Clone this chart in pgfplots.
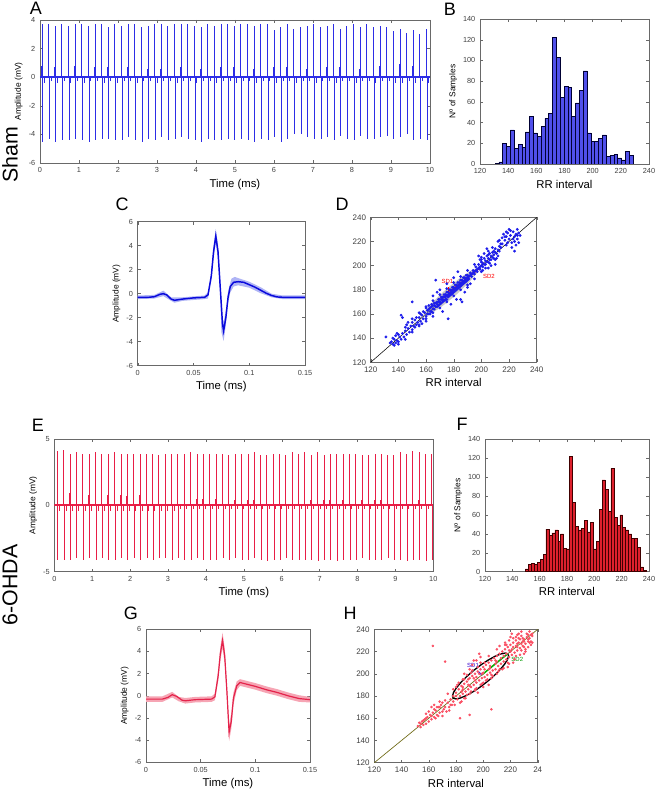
\documentclass[border=0pt]{standalone}
\usepackage{fontspec}
\setmainfont{Liberation Sans}
\usepackage{pgfplots}
\usepackage{pgfplotstable}
\pgfplotsset{compat=1.18}

\definecolor{cA}{RGB}{45,45,230}
\definecolor{cE}{RGB}{232,30,70}
\definecolor{barB}{RGB}{80,80,235}
\definecolor{barF}{RGB}{222,32,45}
\definecolor{lineC}{RGB}{10,10,220}
\definecolor{bandC}{RGB}{175,180,245}
\definecolor{lineG}{RGB}{228,35,75}
\definecolor{bandG}{RGB}{246,165,180}
\definecolor{ptD}{RGB}{30,30,235}
\definecolor{ptH}{RGB}{250,80,100}
\definecolor{diagH}{RGB}{110,105,20}
\definecolor{axgray}{RGB}{105,105,105}

\pgfplotsset{
  mstyle/.style={
    scale only axis, anchor=south west,
    axis line style={axgray, line width=0.4pt},
    major tick style={axgray, line width=0.3pt},
    tick align=inside, major tick length=2.2pt,
    ticklabel style={font=\fontsize{5.5}{6}\selectfont, text=black!75},
    /pgf/number format/assume math mode=true,
    xlabel style={font=\fontsize{8.5}{9}\selectfont, inner sep=1pt},
    ylabel style={font=\fontsize{6.3}{7}\selectfont, inner sep=1pt},
    scaled ticks=false,
  },
}

% beats: time, R peak, S trough, small up bump, small down bump
\pgfplotstableread{
t P T Q S
0.05 3.7 -4.5 0.8 -0.4
0.22 3.7 -4.3 0.6 -0.3
0.39 3.6 -4.5 0.7 -0.4
0.56 3.7 -4.4 0.7 -0.3
0.73 3.6 -4.4 0.6 -0.4
0.90 3.7 -4.3 0.8 -0.3
1.07 3.7 -4.4 0.7 -0.4
1.24 3.6 -4.5 0.6 -0.3
1.41 3.7 -4.4 0.7 -0.3
1.58 3.7 -4.3 0.6 -0.4
1.75 3.5 -4.3 0.7 -0.3
1.92 3.7 -4.4 0.8 -0.4
2.09 3.6 -4.4 0.6 -0.3
2.26 3.7 -4.2 0.7 -0.3
2.43 3.7 -4.4 0.6 -0.4
2.60 3.5 -4.5 0.7 -0.3
2.77 3.6 -4.3 0.6 -0.3
2.94 3.7 -4.4 0.7 -0.4
3.11 3.7 -4.2 0.6 -0.3
3.28 3.6 -4.4 0.7 -0.3
3.45 3.7 -4.3 0.6 -0.4
3.62 3.7 -4.2 0.7 -0.3
3.79 3.7 -4.3 0.6 -0.3
3.96 3.6 -4.4 0.7 -0.4
4.13 3.5 -4.5 0.6 -0.3
4.30 3.7 -4.3 0.7 -0.3
4.47 3.6 -4.4 0.6 -0.4
4.64 3.7 -4.4 0.7 -0.3
4.81 3.7 -4.3 0.6 -0.3
4.98 3.6 -4.4 0.7 -0.4
5.15 3.7 -4.3 0.6 -0.3
5.32 3.7 -4.4 0.7 -0.3
5.49 3.6 -4.5 0.6 -0.4
5.66 3.7 -4.3 0.8 -0.3
5.83 3.7 -4.4 0.6 -0.3
6.00 3.3 -4.2 0.7 -0.4
6.17 3.5 -4.5 0.6 -0.3
6.34 3.7 -4.3 0.7 -0.3
6.51 3.4 -4.0 0.6 -0.4
6.68 3.5 -4.0 0.7 -0.3
6.85 3.6 -4.2 0.6 -0.3
7.02 3.7 -4.3 0.7 -0.4
7.19 3.5 -4.3 0.6 -0.3
7.36 3.6 -4.2 0.7 -0.3
7.53 3.7 -4.4 0.6 -0.4
7.70 3.4 -4.1 0.7 -0.3
7.87 3.6 -4.3 0.8 -0.3
8.04 3.7 -4.4 0.7 -0.4
8.21 3.5 -4.1 0.6 -0.3
8.38 3.7 -4.3 0.7 -0.3
8.55 3.5 -4.3 0.6 -0.4
8.72 3.6 -4.2 0.8 -0.3
8.89 3.5 -4.1 0.7 -0.3
9.06 3.2 -4.3 0.6 -0.4
9.23 3.4 -4.2 0.9 -0.4
9.40 3.1 -4.0 0.7 -0.3
9.57 3.3 -4.4 0.8 -0.4
9.74 3.0 -4.3 0.9 -0.3
9.91 3.4 -4.4 1.1 -0.4
}\ecgA

\pgfplotstableread{
t P T Q S
0.08 4.1 -4.1 0.9 -0.4
0.25 4.2 -4.1 0.8 -0.4
0.42 3.9 -4.1 0.9 -0.4
0.58 4.0 -4.0 0.8 -0.4
0.75 3.9 -4.1 0.9 -0.4
0.92 3.9 -4.0 0.8 -0.4
1.09 4.0 -4.1 0.9 -0.4
1.25 3.9 -4.0 0.8 -0.4
1.42 3.9 -4.1 0.8 -0.4
1.59 4.0 -4.1 0.7 -0.4
1.76 3.9 -4.0 0.8 -0.4
1.92 3.9 -4.1 0.7 -0.4
2.09 3.9 -4.0 0.7 -0.4
2.26 3.9 -4.1 0.8 -0.4
2.43 3.9 -4.0 0.7 -0.4
2.59 3.9 -4.1 0.6 -0.4
2.76 3.8 -4.0 0.7 -0.4
2.93 3.9 -4.0 0.6 -0.4
3.10 3.9 -4.1 0.7 -0.4
3.26 3.9 -4.0 0.6 -0.3
3.43 3.9 -4.1 0.6 -0.3
3.60 4.0 -4.1 0.5 -0.3
3.77 3.9 -4.0 0.5 -0.3
3.93 3.9 -4.1 0.5 -0.3
4.10 3.9 -4.1 0.4 -0.3
4.27 3.9 -4.1 0.5 -0.3
4.44 3.9 -4.0 0.4 -0.3
4.60 3.8 -4.1 0.4 -0.3
4.77 3.9 -4.0 0.4 -0.3
4.94 3.9 -4.1 0.5 -0.3
5.11 3.9 -4.1 0.4 -0.3
5.27 4.0 -4.0 0.4 -0.3
5.44 3.8 -4.1 0.4 -0.3
5.61 3.8 -4.2 0.4 -0.3
5.78 3.9 -4.1 0.4 -0.3
5.94 3.9 -4.1 0.5 -0.3
6.11 3.8 -4.0 0.4 -0.3
6.28 4.0 -4.1 0.4 -0.3
6.45 3.9 -4.1 0.4 -0.3
6.61 4.0 -4.1 0.4 -0.3
6.78 3.8 -4.1 0.4 -0.3
6.95 4.0 -4.2 0.4 -0.3
7.12 3.8 -4.1 0.4 -0.3
7.28 3.9 -4.1 0.4 -0.3
7.45 3.9 -4.2 0.4 -0.3
7.62 3.9 -4.1 0.4 -0.3
7.79 3.9 -4.1 0.4 -0.3
7.95 3.9 -4.1 0.4 -0.3
8.12 3.8 -4.0 0.4 -0.3
8.29 3.8 -4.1 0.4 -0.3
8.46 3.9 -4.1 0.4 -0.3
8.62 3.9 -4.1 0.4 -0.3
8.79 3.8 -4.0 0.4 -0.3
8.96 3.8 -4.1 0.4 -0.3
9.13 4.0 -4.1 0.4 -0.3
9.29 3.9 -4.2 0.4 -0.3
9.46 4.1 -4.1 0.4 -0.3
9.63 4.0 -4.1 0.4 -0.3
9.80 3.9 -4.2 0.4 -0.3
9.96 3.9 -4.1 0.4 -0.3
}\ecgE

% histogram bins: left edge, count (last row closes the interval)
\pgfplotstableread{
x n
130.70 0.5
133.42 2
136.14 20
138.86 17
141.58 33
144.30 15
147.02 19
149.74 16
152.46 31
155.18 46
157.90 30
160.62 27
163.34 36
166.06 44
168.78 49
171.50 122
174.22 103
176.94 64
179.66 75
182.38 74
185.10 46
187.82 59
190.54 71
193.26 90
195.98 30
198.70 22
201.42 22
204.14 25
206.86 28
209.58 7
212.30 8
215.02 9
217.74 6
220.46 4
223.18 12
225.90 8
228.62 0
}\histB

\pgfplotstableread{
x n
149.50 3
151.66 8
153.82 9
155.98 8
158.14 10
160.30 13
162.46 18
164.62 45
166.78 38
168.94 41
171.10 44
173.26 32
175.42 40
177.58 25
179.74 24
181.90 122
184.06 73
186.22 48
188.38 44
190.54 46
192.70 54
194.86 42
197.02 52
199.18 24
201.34 32
203.50 66
205.66 97
207.82 87
209.98 64
212.14 109
214.30 57
216.46 49
218.62 60
220.78 47
222.94 44
225.10 40
227.26 35
229.42 35
231.58 26
233.74 5
235.90 1
238.06 0
}\histF

\begin{document}
\begin{tikzpicture}[x=0.75pt, y=0.75pt]
\path[use as bounding box] (0,0) rectangle (656,794);

% ---------- A ----------
\begin{axis}[mstyle, at={(30pt,473.25pt)}, width=292.5pt, height=107.25pt,
  xmin=0, xmax=10, ymin=-6, ymax=4,
  xtick={0,1,...,10}, ytick={-6,-4,-2,0,2,4},
  xlabel={Time (ms)}, ylabel={Amplitude (mV)}]
\addplot[cA, line width=1.3pt] coordinates {(0,0.02)(10,0.02)};
\addplot[ycomb, cA, line width=0.65pt] table[x=t, y=P] {\ecgA};
\addplot[ycomb, cA, line width=0.65pt] table[x expr=\thisrow{t}+0.015, y=T] {\ecgA};
\addplot[ycomb, cA, line width=0.5pt] table[x expr=\thisrow{t}-0.012, y=Q] {\ecgA};
\addplot[ycomb, cA, line width=0.5pt] table[x expr=\thisrow{t}+0.06, y=S] {\ecgA};
\end{axis}

% ---------- B ----------
\begin{axis}[mstyle, at={(360pt,472.5pt)}, width=126.75pt, height=108.75pt,
  xmin=120, xmax=240, ymin=0, ymax=140,
  xtick={120,140,...,240}, ytick={0,20,...,140},
  xlabel={RR interval}, ylabel={Nº of Samples}]
\addplot[ybar interval, fill=barB, draw=black!80!blue, line width=0.4pt] table[x=x, y=n] {\histB};
\end{axis}

% ---------- C ----------
\begin{axis}[mstyle, at={(103.28pt,321.23pt)}, width=125.5pt, height=108pt,
  xmin=0, xmax=0.15, ymin=-6, ymax=6,
  xtick={0,0.05,0.1,0.15}, xticklabels={0,0.05,0.1,0.15}, ytick={-6,-4,...,6},
  xlabel={Time (ms)}, ylabel={Amplitude (mV)}]
\addplot[fill=bandC, draw=none] coordinates {
 (0,-0.15)(0.015,-0.1)(0.023,0.25)(0.03,-0.3)(0.04,-0.3)(0.06,-0.15)(0.064,0.2)
 (0.066,1.9)(0.068,4.0)(0.070,5.4)(0.072,4.1)(0.074,1.0)(0.076,-2.0)(0.077,-2.4)
 (0.079,-1.4)(0.081,0.2)(0.084,1.25)(0.087,1.4)(0.09,1.3)(0.1,1.0)(0.11,0.55)
 (0.12,0.0)(0.13,-0.15)(0.15,-0.15)
 (0.15,-0.45)(0.13,-0.45)(0.12,-0.3)(0.11,0.05)(0.1,0.5)(0.09,0.7)(0.086,0.6)
 (0.083,0.1)(0.081,-0.8)(0.079,-2.6)(0.077,-3.95)(0.075,-3.2)(0.074,0.0)(0.072,2.9)
 (0.070,4.2)(0.068,3.0)(0.066,1.1)(0.063,-0.4)(0.06,-0.45)(0.04,-0.6)(0.033,-0.75)
 (0.03,-0.6)(0.023,-0.2)(0.015,-0.4)(0,-0.45)};
\addplot[lineC, line width=1.1pt] coordinates {
 (0,-0.3)(0.01,-0.3)(0.015,-0.25)(0.02,-0.05)(0.023,0)(0.026,-0.1)(0.03,-0.45)
 (0.033,-0.55)(0.04,-0.45)(0.05,-0.35)(0.06,-0.3)(0.063,-0.1)(0.066,1.5)(0.068,3.5)
 (0.070,4.8)(0.072,3.5)(0.074,0.5)(0.076,-2.5)(0.077,-3.1)(0.079,-2.0)(0.081,-0.3)
 (0.083,0.6)(0.086,0.95)(0.09,1.0)(0.095,0.95)(0.1,0.75)(0.105,0.55)(0.11,0.3)
 (0.115,0.05)(0.12,-0.15)(0.125,-0.27)(0.13,-0.3)(0.15,-0.3)};
\end{axis}

% ---------- D ----------
\begin{axis}[mstyle, at={(278.03pt,323.78pt)}, width=124.5pt, height=108.75pt,
  xmin=120, xmax=240, ymin=120, ymax=240,
  xtick={120,140,...,240}, ytick={120,140,...,240},
  ticklabel style={font=\fontsize{6}{7}\selectfont},
  xlabel={RR interval}]
\addplot[black, line width=0.4pt] coordinates {(120,120)(240,240)};
\addplot[only marks, mark=*, mark size=0.85pt, ptD] coordinates {
 (135,137)(136,135)(137,139)(138,136)(136,140)(139,138)(140,137)(141,141)(138,142)
 (142,139)(143,144)(140,143)(144,141)(145,146)(146,143)(147,148)(145,149)(148,145)
 (149,150)(150,147)(131,141)(142,159)(143,157)(150,170)(146,151)(150,153)(151,150)
 (152,155)(153,151)(154,153)(155,157)(156,154)(157,159)(158,156)(155,151)(153,157)
 (159,161)(160,158)(161,163)(162,160)(158,162)(163,165)(164,162)(165,167)(160,165)
 (166,164)(162,167)(164,168)(157,152)(160,156)(165,161)(163,160)
 (166,169)(167,166)(168,170)(169,167)(170,172)(171,169)(172,174)(173,171)(174,176)
 (175,172)(176,178)(177,175)(178,180)(179,177)(180,182)(181,179)(182,184)(183,181)
 (184,186)(185,183)(186,188)(187,185)(188,190)(189,187)(190,192)(191,189)(192,194)
 (193,191)(194,196)(195,193)(168,166)(170,168)(172,170)(174,172)(176,174)(178,176)
 (180,178)(182,180)(184,182)(186,184)(188,186)(190,188)(169,172)(171,174)(173,176)
 (175,178)(177,180)(179,182)(181,184)(183,186)(185,188)(187,190)(189,192)
 (168,178)(167,188)(176,156)(185,172)(186,170)(182,172)(188,178)(170,180)(175,185)
 (180,190)(183,195)(190,182)(192,185)(178,168)(165,175)(172,162)
 (196,199)(197,195)(198,201)(199,197)(200,203)(201,199)(202,206)(203,201)(204,208)
 (205,203)(206,210)(207,205)(208,211)(209,206)(200,207)(202,210)(205,212)(207,200)
 (210,205)(203,198)(206,202)(198,208)(204,214)(209,212)(212,220)(210,214)
 (215,223)(216,226)(217,221)(218,224)(219,227)(220,222)(221,225)(222,219)(223,228)
 (224,224)(225,226)(226,222)(227,227)(228,225)(222,215)(224,212)(225,217)(220,230)
 (218,217)(215,218)(226,230)(227,219)
 (161,160)(162,164)(163,162)(164,166)(165,164)(166,167)(167,169)(168,168)(169,170)
 (170,170)(171,172)(172,172)(173,174)(174,174)(175,175)(176,176)(177,177)(178,178)
 (179,179)(180,180)(181,181)(182,182)(183,183)(184,184)(185,185)(186,186)(187,187)
 (188,188)(189,189)(190,190)(191,191)(192,192)(193,193)(194,194)(195,195)(196,196)
 (197,197)(198,198)(199,199)(200,200)(201,202)(202,201)(203,204)(204,203)(205,206)
 (206,205)(207,208)(208,207)(209,209)(210,211)(211,210)(212,213)(213,212)(214,215)
 (212,208)(213,216)(211,206)(205,198)(200,195)(195,189)(190,184)(185,180)(180,175)
 (175,170)(170,165)(165,158)(160,154)(155,150)(150,145)(160,166)(165,171)(170,176)
 (175,181)(180,186)(185,191)(190,196)(195,201)(200,205)(205,209)(150,156)(155,161)
 (145,139)(140,135)(137,134)(134,136)(139,144)(147,153)(152,149)(156,160)(218,228)
 (221,229)(224,220)(217,224)(223,222)(213,221)(226,225)(214,218)(219,219)(210,201)
 (208,215)(201,196)(199,205)};
\addplot[fill=gray!70, fill opacity=0.6, draw=none] coordinates {
 (198,198)(193.82,196.82)(185.4,190.6)(175,181)(165.4,170.6)(159.18,162.18)
 (158,158)(162.18,159.18)(170.6,165.4)(181,175)(190.6,185.4)(196.82,193.82)(198,198)};
\addplot[red, line width=0.8pt] coordinates {(177,178.5)(198,197)};
\addplot[red, line width=0.6pt] coordinates {(176.5,178.5)(176.5,182)};
\node[red, font=\fontsize{4.5}{5}\selectfont] at (axis cs:175.5,187) {SD1};
\node[red, font=\fontsize{4.5}{5}\selectfont] at (axis cs:205.5,191) {SD2};
\end{axis}

% ---------- E ----------
\begin{axis}[mstyle, at={(40.73pt,166.73pt)}, width=284.25pt, height=99.5pt,
  xmin=0, xmax=10, ymin=-5, ymax=5,
  xtick={0,1,...,10}, ytick={-5,0,5},
  xlabel={Time (ms)}, ylabel={Amplitude (mV)}]
\addplot[cE, line width=1.1pt] coordinates {(0,0.02)(10,0.02)};
\addplot[ycomb, cE, line width=0.65pt] table[x=t, y=P] {\ecgE};
\addplot[ycomb, cE, line width=0.65pt] table[x expr=\thisrow{t}+0.015, y=T] {\ecgE};
\addplot[ycomb, cE, line width=0.5pt] table[x expr=\thisrow{t}-0.012, y=Q] {\ecgE};
\addplot[ycomb, cE, line width=0.5pt] table[x expr=\thisrow{t}+0.06, y=S] {\ecgE};
\end{axis}

% ---------- F ----------
\begin{axis}[mstyle, at={(363.75pt,166.73pt)}, width=123pt, height=99.5pt,
  xmin=120, xmax=240, ymin=0, ymax=140,
  xtick={120,140,...,240}, ytick={0,20,...,140},
  xlabel={RR interval}, ylabel={Nº of Samples}]
\addplot[ybar interval, fill=barF, draw=black!75!red, line width=0.4pt] table[x=x, y=n] {\histF};
\end{axis}

% ---------- G ----------
\begin{axis}[mstyle, at={(109.5pt,23.78pt)}, width=123pt, height=99.75pt,
  xmin=0, xmax=0.15, ymin=-6, ymax=6,
  xtick={0,0.05,0.1,0.15}, xticklabels={0,0.05,0.1,0.15}, ytick={-6,-4,...,6},
  xlabel={Time (ms)}, ylabel={Amplitude (mV)}]
\addplot[fill=bandG, draw=none] coordinates {
 (0,-0.05)(0.015,-0.05)(0.024,0.35)(0.03,-0.1)(0.036,-0.2)(0.045,-0.1)(0.06,-0.05)
 (0.063,0.2)(0.066,2.3)(0.068,4.4)(0.070,5.7)(0.072,4.3)(0.074,1.0)(0.076,-2.6)
 (0.078,-1.6)(0.080,0.3)(0.083,1.3)(0.086,1.5)(0.09,1.4)(0.1,1.15)(0.11,0.85)
 (0.12,0.6)(0.13,0.3)(0.14,0.05)(0.15,-0.1)
 (0.15,-0.6)(0.14,-0.55)(0.13,-0.3)(0.12,0.0)(0.11,0.25)(0.1,0.55)(0.09,0.8)
 (0.086,0.9)(0.083,0.5)(0.080,-0.8)(0.078,-3.0)(0.076,-4.1)(0.074,-0.2)(0.072,2.9)
 (0.070,4.3)(0.068,3.2)(0.066,1.3)(0.063,-0.4)(0.06,-0.55)(0.045,-0.6)(0.036,-0.7)
 (0.03,-0.5)(0.024,-0.15)(0.015,-0.55)(0,-0.55)};
\addplot[lineG, line width=0.9pt] coordinates {
 (0,-0.3)(0.015,-0.3)(0.02,-0.15)(0.024,0.1)(0.028,-0.05)(0.033,-0.4)(0.036,-0.45)
 (0.045,-0.35)(0.06,-0.3)(0.063,-0.1)(0.066,1.8)(0.068,3.8)(0.070,5.0)(0.072,3.6)
 (0.074,0.4)(0.076,-3.3)(0.078,-2.3)(0.080,-0.2)(0.083,0.9)(0.086,1.2)(0.09,1.1)
 (0.1,0.85)(0.11,0.55)(0.12,0.3)(0.13,0.0)(0.14,-0.25)(0.15,-0.35)};
\end{axis}

% ---------- H ----------
\begin{axis}[mstyle, at={(280.73pt,23.48pt)}, width=122.55pt, height=100.05pt,
  xmin=120, xmax=240, ymin=120, ymax=240,
  xtick={120,140,...,240}, xticklabels={120,140,160,180,200,220,24},
  ytick={120,140,...,240},
  ticklabel style={font=\fontsize{6}{7}\selectfont},
  xlabel={RR interval}]
\addplot[only marks, mark=*, mark size=0.75pt, ptH] coordinates {
 (152,153)(153,156)(154,152)(155,157)(156,154)(157,159)(158,155)(159,161)(160,157)
 (161,163)(162,159)(163,165)(164,161)(165,167)(166,163)(167,170)(168,165)(169,172)
 (170,166)(171,168)(160,166)(162,170)(165,160)(164,172)(167,162)(168,175)(170,162)
 (172,170)(173,166)(174,174)(175,170)(176,177)(177,172)(178,180)(175,167)(172,176)
 (163,225)(172,211)(206,168)(183,160)(190,163)(178,175)(158,164)
 (180,183)(181,177)(182,186)(183,180)(184,189)(185,182)(186,191)(187,184)(188,193)
 (189,186)(190,196)(191,188)(192,198)(193,190)(194,200)(195,192)(196,202)(197,194)
 (198,204)(199,196)(200,206)(201,197)(202,208)(203,199)(204,210)(205,201)(206,212)
 (207,203)(208,214)(209,204)(182,192)(185,195)(188,199)(190,204)(192,208)(195,212)
 (198,215)(186,178)(190,182)(194,186)(198,190)(202,194)(206,196)(210,200)(184,175)
 (196,183)(200,188)(204,190)(193,212)(197,218)(180,188)(186,200)(191,201)(196,206)
 (201,210)(184,184)(189,190)(194,194)(199,200)(204,204)(209,209)
 (210,216)(211,207)(212,218)(213,209)(214,220)(215,211)(216,222)(217,213)(218,224)
 (219,215)(220,226)(221,217)(222,228)(223,219)(224,230)(225,221)(226,232)(227,223)
 (228,234)(229,225)(230,231)(231,227)(232,236)(233,229)(234,232)(235,226)(236,234)
 (225,235)(228,221)(231,222)(222,210)(218,206)(214,204)(212,225)(216,228)(220,233)
 (230,218)(233,224)(226,228)(219,221)(224,225)(229,229)(234,238)(221,236)
 (178,186)(179,172)(181,190)(183,174)(185,188)(187,178)(189,195)(191,184)(193,196)
 (195,187)(197,200)(199,191)(201,204)(203,195)(205,207)(207,198)(209,212)(211,202)
 (213,214)(215,205)(217,218)(219,209)(221,222)(223,213)(225,227)(227,217)(229,232)
 (231,220)(233,235)(235,229)(180,180)(185,186)(190,189)(195,197)(200,201)(205,205)
 (210,211)(215,216)(220,220)(225,224)(230,229)(235,235)(186,195)(192,203)(198,210)
 (204,216)(210,222)(216,226)(222,232)(228,238)(188,181)(194,185)(200,192)(206,199)
 (212,204)(218,210)(224,216)(230,224)(236,228)(174,182)(170,174)(166,170)(162,162)
 (158,160)(156,158)(154,155)(164,168)(168,170)(176,172)(232,233)(234,228)(236,236)
 (226,236)(224,233)(219,230)(217,226)(222,224)(228,227)(233,231)(227,231)};
\addplot[diagH, line width=0.5pt] coordinates {(120,120)(240,240)};
\addplot[black, line width=1pt] coordinates {
 (218,218)(216.03,218.61)(212.82,217.82)(208.6,215.68)(203.67,212.33)(198.35,208.01)
 (193,203)(187.99,197.65)(183.67,192.33)(180.32,187.4)(178.18,183.18)(177.39,179.97)
 (178,178)(179.97,177.39)(183.18,178.18)(187.4,180.32)(192.33,183.67)(197.65,187.99)
 (203,193)(208.01,198.35)(212.33,203.67)(215.68,208.6)(217.82,212.82)(218.61,216.03)
 (218,218)};
\addplot[green!70!black, line width=1.1pt] coordinates {(199,199)(218,218)};
\addplot[blue, line width=0.8pt] coordinates {(199,199)(196.5,202)};
\node[blue!80!red, font=\fontsize{4.5}{5}\selectfont] at (axis cs:192.5,207.5) {SD1};
\node[green!60!black, font=\fontsize{4.5}{5}\selectfont] at (axis cs:225,213) {SD2};
\end{axis}

% ---------- panel letters and group names ----------
\begin{scope}[every node/.style={font=\fontsize{13.5}{15}\selectfont, inner sep=0pt}]
\node at (36,785.5) {A};
\node at (450,785) {B};
\node at (122,590) {C};
\node at (342,590) {D};
\node at (38,369) {E};
\node at (462,370) {F};
\node at (131,181) {G};
\node at (350,181) {H};
\end{scope}
\node[rotate=90, font=\fontsize{16}{18}\selectfont, inner sep=0pt] at (10,639) {Sham};
\node[rotate=90, font=\fontsize{16}{18}\selectfont, inner sep=0pt] at (10,209) {6-OHDA};
\end{tikzpicture}
\end{document}
